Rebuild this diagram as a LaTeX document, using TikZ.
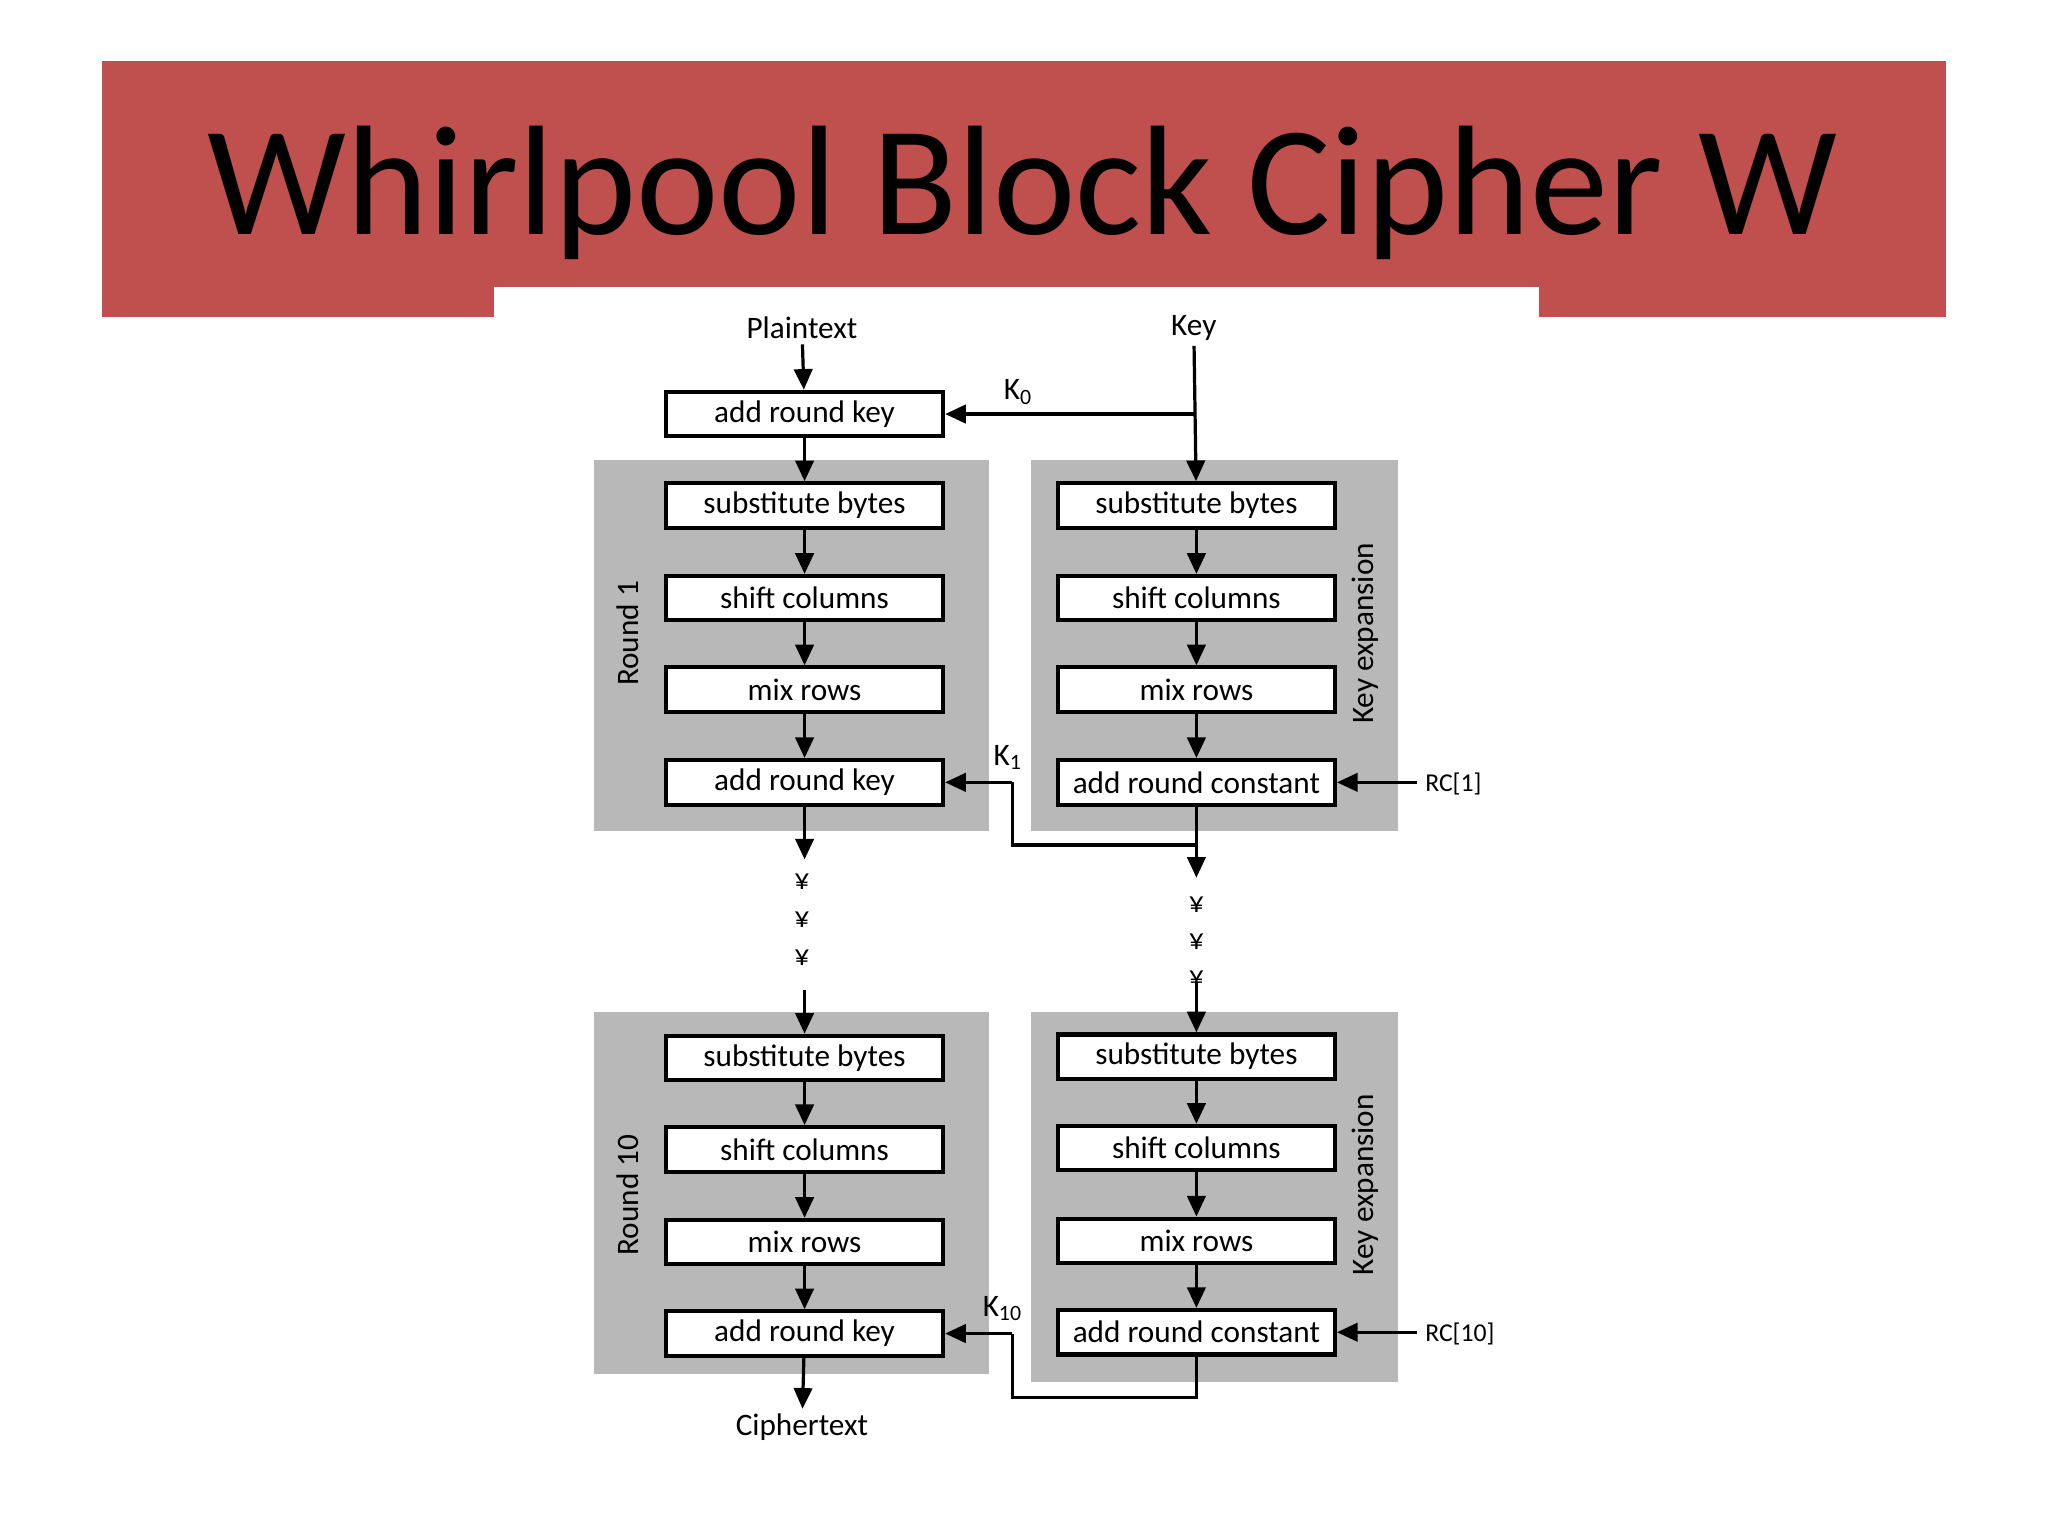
\documentclass[tikz,border=0pt]{standalone}
\usepackage{fontspec}
\setmainfont{Carlito}
\usetikzlibrary{arrows.meta}
\begin{document}
\begin{tikzpicture}[x=0.01cm,y=-0.01cm,
  box/.style={draw=black,line width=0.9pt,fill=white,minimum width=2.12cm,minimum height=0.34cm,inner sep=0pt,font=\fontsize{6.8}{8}\selectfont},
  panel/.style={fill=black!28,draw=none},
  lbl/.style={font=\fontsize{6.8}{8}\selectfont,inner sep=1pt},
  arr/.style={line width=0.7pt,-{Triangle[length=4.5pt,width=4pt]}},
  ln/.style={line width=0.7pt},
  yen/.style={font=\fontsize{6.5}{8}\selectfont,inner sep=0pt}]
\useasboundingbox (0,0) rectangle (1568,1176);
\fill[white] (0,0) rectangle (1568,1176);
\fill[red!55!black!40!red!70!white, fill={rgb,255:red,192;green,80;blue,77}] (78,47) rectangle (1490,243);
\fill[white] (378,220) rectangle (1178,243);
\node[font=\fontsize{34}{40}\selectfont] (title) at (783,148) {Whirlpool Block Cipher W};
% panels
\fill[panel] (455,352) rectangle (757,636);
\fill[panel] (789,352) rectangle (1070,636);
\fill[panel] (455,775) rectangle (757,1052);
\fill[panel] (789,775) rectangle (1070,1058);
\node[lbl,rotate=90] (r1) at (481,485) {Round 1};
\node[lbl,rotate=90] (r10) at (481,915) {Round 10};
\node[lbl,rotate=90] (ke1) at (1045,485) {Key expansion};
\node[lbl,rotate=90] (ke2) at (1045,907) {Key expansion};
% top
\node[lbl] (pt) at (614,251) {Plaintext};
\node[lbl] (key) at (914,251) {Key};
\node[box] (ark0) at (616,317) {add round key};
% round 1
\node[box] (s1) at (616,387) {substitute bytes};
\node[box] (c1) at (616,458) {shift columns};
\node[box] (m1) at (616,528) {mix rows};
\node[box] (a1) at (616,599) {add round key};
\node[box] (ks1) at (916,387) {substitute bytes};
\node[box] (kc1) at (916,458) {shift columns};
\node[box] (km1) at (916,528) {mix rows};
\node[box] (kr1) at (916,599) {add round constant};
% round 10
\node[box] (s2) at (616,810) {substitute bytes};
\node[box] (c2) at (616,880) {shift columns};
\node[box] (m2) at (616,951) {mix rows};
\node[box] (a2) at (616,1021) {add round key};
\node[box] (ks2) at (916,809) {substitute bytes};
\node[box] (kc2) at (916,879) {shift columns};
\node[box] (km2) at (916,950) {mix rows};
\node[box] (kr2) at (916,1020) {add round constant};
\node[lbl] (ct) at (614,1093) {Ciphertext};
% arrows left
\draw[arr] (pt) -- (ark0);
\draw[arr] (ark0) -- (s1);
\draw[arr] (s1) -- (c1);
\draw[arr] (c1) -- (m1);
\draw[arr] (m1) -- (a1);
\coordinate (l1) at (616,658);
\draw[arr] (a1) -- (l1);
\node[yen] (y1) at (614,675) {¥};
\node[yen] (y2) at (614,704) {¥};
\node[yen] (y3) at (614,733) {¥};
\coordinate (l2) at (616,758);
\draw[arr] (l2) -- (s2.north);
\draw[arr] (s2) -- (c2);
\draw[arr] (c2) -- (m2);
\draw[arr] (m2) -- (a2);
\draw[arr] (a2) -- (ct);
% key column
\coordinate (kj) at (916,317);
\draw[arr] (key) -- (ks1);
\draw[arr] (kj) -- (ark0.east);
\node[lbl] (k0) at (780,300) {K\textsubscript{0}};
\draw[arr] (ks1) -- (kc1);
\draw[arr] (kc1) -- (km1);
\draw[arr] (km1) -- (kr1);
\coordinate (rc1p) at (1085,599);
\node[lbl,anchor=west,font=\fontsize{5.6}{7}\selectfont] (rc1) at (1087,600) {RC[1]};
\draw[arr] (rc1p) -- (kr1.east);
\coordinate (kd1) at (916,672);
\draw[arr] (kr1) -- (kd1);
\coordinate (b1) at (916,647);
\coordinate (b2) at (775,647);
\coordinate (b3) at (775,599);
\draw[ln] (b1) -- (b2) -- (b3);
\draw[arr] (b3) -- (a1.east);
\node[lbl] (k1) at (772,580) {K\textsubscript{1}};
\node[yen] (y4) at (916,693) {¥};
\node[yen] (y5) at (916,721) {¥};
\node[yen] (y6) at (916,749) {¥};
\coordinate (kd2) at (916,752);
\draw[arr] (kd2) -- (ks2.north);
\draw[arr] (ks2) -- (kc2);
\draw[arr] (kc2) -- (km2);
\draw[arr] (km2) -- (kr2);
\coordinate (rc2p) at (1085,1020);
\node[lbl,anchor=west,font=\fontsize{5.6}{7}\selectfont] (rc2) at (1087,1021) {RC[10]};
\draw[arr] (rc2p) -- (kr2.east);
\coordinate (d1) at (916,1070);
\coordinate (d2) at (775,1070);
\coordinate (d3) at (775,1021);
\draw[ln] (kr2.south) -- (d1) -- (d2) -- (d3);
\draw[arr] (d3) -- (a2.east);
\node[lbl] (k10) at (768,1002) {K\textsubscript{10}};
\end{tikzpicture}
\end{document}
